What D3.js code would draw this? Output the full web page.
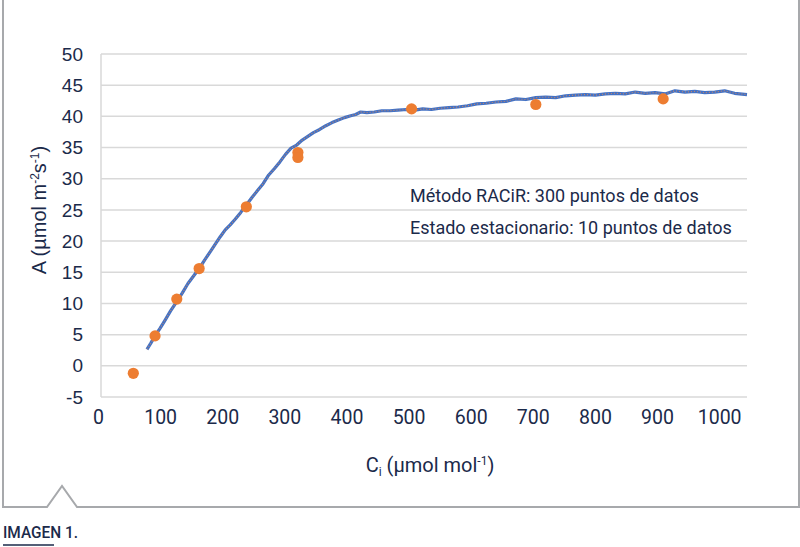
<!DOCTYPE html>
<html><head><meta charset="utf-8">
<script src="https://cdn.jsdelivr.net/npm/d3@7"></script>
<style>html,body{margin:0;padding:0;background:#fff;}svg{display:block;}</style>
</head><body>
<svg id="c" width="800" height="547"></svg>
<script>
// RACiR curve (Ci, A)
const racirCi = [74, 80, 87, 95, 103, 112, 122, 131, 140, 149, 158, 167, 176, 184, 192, 200, 208, 216, 225, 234, 243, 252, 261, 270, 279, 288, 297, 306, 315, 324, 333, 342, 352, 362, 372, 382, 392, 402, 410, 418, 428, 440, 452, 465, 478, 492, 505, 518, 532, 546, 560, 575, 590, 605, 620, 636, 652, 668, 684, 700, 716, 732, 748, 764, 780, 796, 812, 828, 844, 860, 876, 892, 908, 924, 940, 956, 972, 988, 1004, 1020, 1040];
const racirA = [2.65, 3.6, 4.8, 6.0, 7.3, 8.8, 10.3, 11.7, 13.2, 14.4, 15.6, 17.0, 18.3, 19.5, 20.7, 21.8, 22.6, 23.5, 24.6, 25.8, 27.0, 28.1, 29.2, 30.6, 31.6, 32.7, 33.9, 34.9, 35.4, 36.2, 36.8, 37.4, 37.9, 38.5, 39.0, 39.4, 39.8, 40.1, 40.3, 40.7, 40.6, 40.7, 40.9, 40.9, 41.0, 41.1, 41.0, 41.2, 41.1, 41.3, 41.4, 41.5, 41.7, 42.0, 42.1, 42.3, 42.4, 42.8, 42.7, 43.0, 43.1, 43.0, 43.3, 43.4, 43.5, 43.4, 43.6, 43.7, 43.6, 43.9, 43.7, 43.8, 43.6, 44.1, 43.9, 44.0, 43.8, 43.9, 44.1, 43.7, 43.5];
// Steady-state points
const ssCi = [52, 87, 122, 158, 234, 317, 317, 500, 700, 905];
const ssA = [-1.2, 4.8, 10.7, 15.6, 25.5, 34.2, 33.4, 41.2, 41.9, 42.8];
const xTicks = [0, 100, 200, 300, 400, 500, 600, 700, 800, 900, 1000];
const yTicks = [-5, 0, 5, 10, 15, 20, 25, 30, 35, 40, 45, 50];
const legendLines = ["Método RACiR: 300 puntos de datos", "Estado estacionario: 10 puntos de datos"];

const svg = d3.select("#c");
const navy = "#1b2a4a";
const x = d3.scaleLinear().domain([0, 1040]).range([101, 747]);
const y = d3.scaleLinear().domain([-5, 50]).range([397, 54]);

// frame
svg.append("path")
  .attr("d", "M3,0 V507 H47 L62,486 L77,507 H799 V0")
  .attr("fill", "none").attr("stroke", "#a7a9ac").attr("stroke-width", 2);

// grid
svg.append("g").selectAll("line").data(yTicks).join("line")
  .attr("x1", x(0)).attr("x2", x(1040))
  .attr("y1", d => y(d)).attr("y2", d => y(d))
  .attr("stroke", "#d9d9d9").attr("stroke-width", 1.5);
svg.append("line").attr("x1", x(0)).attr("x2", x(0)).attr("y1", y(50)).attr("y2", y(-5))
  .attr("stroke", "#d9d9d9").attr("stroke-width", 1.5);

// y axis labels
const yAxis = d3.axisLeft(y).tickValues(yTicks).tickSize(0).tickPadding(18).tickFormat(d => String(d));
const gy = svg.append("g").attr("transform", `translate(${x(0)},0)`).call(yAxis);
gy.select(".domain").remove();
gy.selectAll("text").attr("font-family", "Liberation Sans, Arial, sans-serif")
  .attr("font-size", 19).attr("fill", navy);

// x axis labels
const xAxis = d3.axisBottom(x).tickValues(xTicks).tickSize(0).tickPadding(13).tickFormat(d => String(d));
const gx = svg.append("g").attr("transform", `translate(-3,${y(-5)})`).call(xAxis);
gx.select(".domain").remove();
gx.selectAll("text").attr("font-family", "Roboto, sans-serif")
  .attr("font-size", 19.5).attr("fill", navy);

// RACiR curve
const pts = racirCi.map((c, i) => [c, racirA[i]]);
const line = d3.line().x(d => x(d[0])).y(d => y(d[1]));
svg.append("path").datum(pts).attr("d", line)
  .attr("fill", "none").attr("stroke", "#4472c4").attr("stroke-width", 3.2)
  .attr("stroke-linejoin", "round");
svg.append("path").datum(pts).attr("d", line)
  .attr("fill", "none").attr("stroke", "#e08a55").attr("stroke-width", 1.1)
  .attr("stroke-dasharray", "1,2").attr("opacity", 0.85);

// steady state points
svg.append("g").selectAll("circle").data(ssCi.map((c, i) => [c, ssA[i]])).join("circle")
  .attr("cx", d => x(d[0])).attr("cy", d => y(d[1])).attr("r", 5.6)
  .attr("fill", "#ed7d31");

// legend text
svg.append("g").selectAll("text").data(legendLines).join("text")
  .attr("x", 410).attr("y", (d, i) => 202 + i * 32)
  .attr("font-family", "Roboto, sans-serif").attr("font-size", 18)
  .attr("fill", navy).text(d => d);

// y title
const yt = svg.append("text")
  .attr("transform", "translate(46,210) rotate(-90)")
  .attr("text-anchor", "middle")
  .attr("font-family", "Liberation Sans, Arial, sans-serif").attr("font-size", 20)
  .attr("fill", navy);
yt.append("tspan").text("A (µmol m");
yt.append("tspan").text("-2").attr("font-size", 12).attr("baseline-shift", "7");
yt.append("tspan").text("s");
yt.append("tspan").text("-1").attr("font-size", 12).attr("baseline-shift", "7");
yt.append("tspan").text(")");

// x title
const xt = svg.append("text")
  .attr("x", 430).attr("y", 472).attr("text-anchor", "middle")
  .attr("font-family", "Roboto, sans-serif").attr("font-size", 20)
  .attr("fill", navy);
xt.append("tspan").text("C");
xt.append("tspan").text("i").attr("font-size", 12).attr("baseline-shift", "-4");
xt.append("tspan").text(" (µmol mol");
xt.append("tspan").text("-1").attr("font-size", 12).attr("baseline-shift", "7");
xt.append("tspan").text(")");

// caption
svg.append("text").attr("x", 3).attr("y", 538)
  .attr("font-family", "Roboto, sans-serif").attr("font-weight", 500).attr("font-size", 17)
  .attr("textLength", 75).attr("lengthAdjust", "spacingAndGlyphs")
  .attr("fill", navy).text("IMAGEN 1.");
svg.append("line").attr("x1", 3).attr("x2", 54).attr("y1", 545).attr("y2", 545)
  .attr("stroke", navy).attr("stroke-width", 1.5);
</script>
</body></html>
